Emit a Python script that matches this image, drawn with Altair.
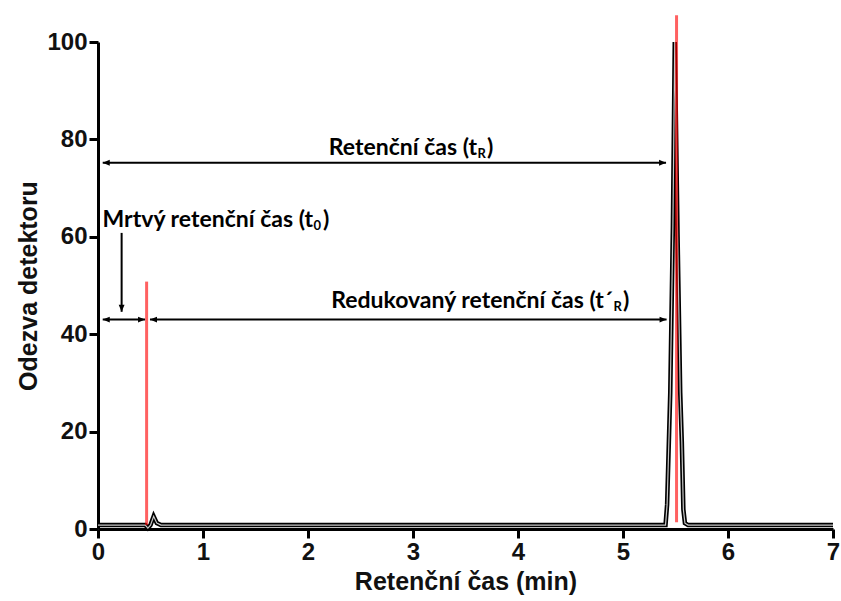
import altair as alt
import pandas as pd

# Chromatogram trace (time in min, detector response)
trace_t = [0.0, 0.45, 0.475, 0.50, 0.53, 0.56, 0.60, 5.405, 5.42, 5.45, 5.475, 5.493, 5.52, 5.545, 5.56, 5.575, 5.59, 5.62, 7.0]
trace_v = [0.8, 0.8, 0.2, 0.8, 2.6, 1.2, 0.8, 0.8, 5, 28, 62, 100, 60, 28, 18, 4, 1.2, 0.8, 0.8]

# Red marker lines
red_x = [0.463, 5.51]
red_y0 = [0.8, 1.4]
red_y1 = [50.8, 105.5]

# Annotation arrows (shafts)
arr_x0 = [0.045, 0.045, 0.495, 0.225]
arr_x1 = [5.41, 0.448, 5.415, 0.225]
arr_y0 = [75.2, 43.0, 43.0, 60.8]
arr_y1 = [75.2, 43.0, 43.0, 44.6]

# Arrow heads
head_x = [0.045, 5.41, 0.045, 0.448, 0.495, 5.415, 0.225]
head_y = [75.2, 75.2, 43.0, 43.0, 43.0, 43.0, 44.6]
head_dir = ["left", "right", "left", "right", "left", "right", "down"]

# Annotation texts (main part, subscript, closing bracket)
lab_x = [3.61, 2.048, 4.905]
lab_y = [76.8, 62.1, 45.3]
lab_main = ["Retenční čas (t", "Mrtvý retenční čas (t", "Redukovaný retenční čas (t´"]
lab_sub = ["R", "0", "R"]
lab_close = [")", ")", ")"]

x_ticks = [0, 1, 2, 3, 4, 5, 6, 7]
y_ticks = [0, 20, 40, 60, 80, 100]

trace = pd.DataFrame({"t": trace_t, "v": trace_v})
reds = pd.DataFrame({"x": red_x, "y0": red_y0, "y1": red_y1})
arrows = pd.DataFrame({"x0": arr_x0, "x1": arr_x1, "y0": arr_y0, "y1": arr_y1})
heads = pd.DataFrame({"x": head_x, "y": head_y, "dir": head_dir})
labels = pd.DataFrame({"x": lab_x, "y": lab_y, "main": lab_main, "sub": lab_sub, "close": lab_close})

xs = alt.Scale(domain=[0, 7], nice=False, zero=False)
ys = alt.Scale(domain=[0, 100], nice=False)

X = lambda f: alt.X(f, type="quantitative", scale=xs,
                    axis=alt.Axis(values=x_ticks, title="Retenční čas (min)", format="d"))
Y = lambda f: alt.Y(f, type="quantitative", scale=ys,
                    axis=alt.Axis(values=y_ticks, title="Odezva detektoru", format="d"))

line_outer = alt.Chart(trace).mark_line(color="black", strokeWidth=4.5, interpolate="linear").encode(
    x=X("t"), y=Y("v"), order="t:Q")
line_inner = alt.Chart(trace).mark_line(color="#c8c8c8", strokeWidth=1.2, interpolate="linear").encode(
    x=X("t"), y=Y("v"), order="t:Q")

red = alt.Chart(reds).mark_rule(color="#ff0000", opacity=0.62, strokeWidth=3).encode(
    x=X("x"), y=Y("y0"), y2="y1")

shafts = alt.Chart(arrows).mark_rule(color="black", strokeWidth=2).encode(
    x=X("x0"), x2="x1", y=Y("y0"), y2="y1")

head_paths = ["M0,0L1,-0.42L1,0.42Z", "M0,0L-1,-0.42L-1,0.42Z", "M0,0L-0.42,-1L0.42,-1Z"]
heads_m = alt.Chart(heads).mark_point(filled=True, color="black", opacity=1, size=196, strokeWidth=0).encode(
    x=X("x"), y=Y("y"),
    shape=alt.Shape("dir:N", scale=alt.Scale(domain=["left", "right", "down"], range=head_paths), legend=None))

FONT = "Lato"
txt_main = alt.Chart(labels).mark_text(align="right", baseline="alphabetic", font=FONT, fontWeight="bold",
                                       fontSize=23, color="#000").encode(x=X("x"), y=Y("y"), text="main:N")
txt_sub = alt.Chart(labels).mark_text(align="left", baseline="alphabetic", font=FONT, fontWeight="bold",
                                      fontSize=13, dx=0.5, dy=3, color="#000").encode(x=X("x"), y=Y("y"), text="sub:N")
txt_close = alt.Chart(labels).mark_text(align="left", baseline="alphabetic", font=FONT, fontWeight="bold",
                                        fontSize=23, dx=10, color="#000").encode(x=X("x"), y=Y("y"), text="close:N")

chart = alt.layer(line_outer, line_inner, red, shafts, heads_m, txt_main, txt_sub, txt_close).properties(
    width=735, height=487,
    autosize=alt.AutoSizeParams(type="none"),
    padding={"left": 98, "top": 42, "right": 8, "bottom": 72},
    background="white",
).configure_view(stroke=None).configure_axis(
    grid=False,
    domainColor="black", domainWidth=3,
    tickColor="black", tickWidth=3, tickSize=9,
    labelFont="Liberation Sans", labelFontWeight="bold", labelFontSize=24, labelColor="#111",
    titleFont="Liberation Sans", titleFontWeight="bold", titleFontSize=25, titleColor="#111",
    labelPadding=2,
).configure_axisX(titlePadding=5, labelFlush=False).configure_axisY(titlePadding=5, labelBaseline="middle")

chart.save("out.html", embed_options={"renderer": "svg", "actions": False})
